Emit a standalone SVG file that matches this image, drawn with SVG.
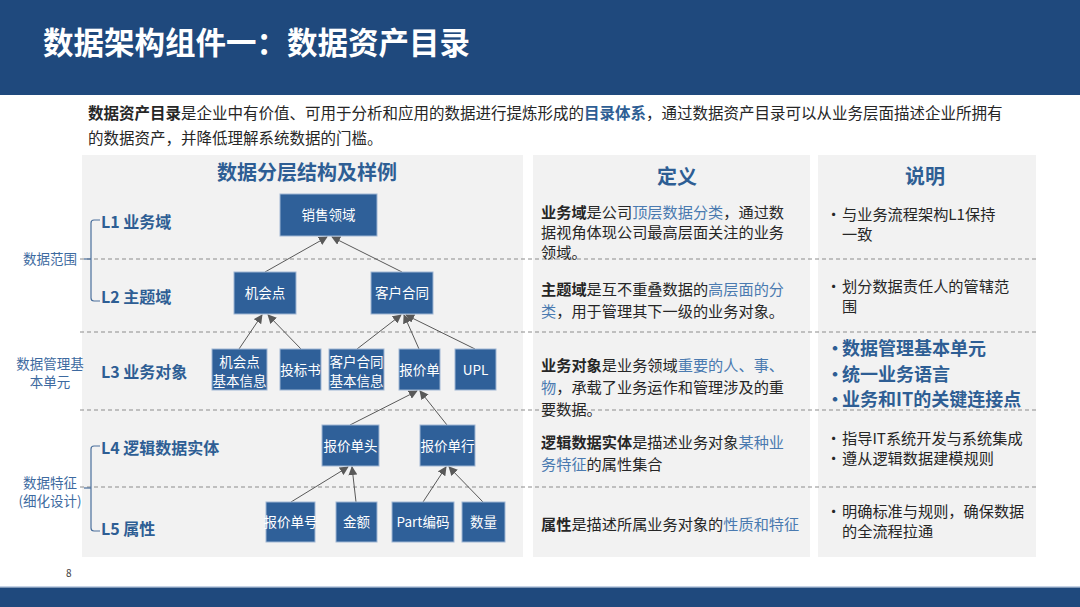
<svg xmlns="http://www.w3.org/2000/svg" width="1080" height="607" viewBox="0 0 1080 607">
<defs>
<style>
text{font-family:"Noto Sans CJK SC","Noto Sans",sans-serif;}
.title{font-size:30.5px;font-weight:700;fill:#ffffff;}
.intro{font-size:15.5px;fill:#262626;}
.b{font-weight:700;}
.hl{fill:#2e5e94;font-weight:700;}
.lb{fill:#4a7ab0;}
.panel{fill:#f2f2f2;}
.dash{stroke:#8c8c8c;stroke-width:1;stroke-dasharray:4,3;fill:none;}
.ph{font-size:20px;font-weight:700;fill:#2e5e94;text-anchor:middle;}
.lvl{font-size:16px;font-weight:700;fill:#2e5e94;}
.side{font-size:13.5px;fill:#3d6aa0;text-anchor:middle;}
.brk{stroke:#4a6f9c;stroke-width:1.2;fill:none;}
.node rect{fill:#2f6099;stroke:#9fb6d3;stroke-width:1;}
.node text{font-size:13.5px;fill:#ffffff;text-anchor:middle;}
.def{font-size:15.2px;fill:#262626;}
.exp{font-size:15.2px;fill:#262626;}
.expb{font-size:18px;font-weight:700;fill:#2e5e94;}
.conn line{stroke:#595959;stroke-width:1;marker-end:url(#ah);}
</style>
<marker id="ah" viewBox="0 0 10 10" refX="9" refY="5" markerWidth="9" markerHeight="9" markerUnits="userSpaceOnUse" orient="auto">
<path d="M0,0 L10,5 L0,10 z" fill="#595959"/>
</marker>
</defs>
<rect x="0" y="0" width="1080" height="607" fill="#ffffff"/>
<!-- header -->
<rect x="0" y="0" width="1080" height="95" fill="#1f497d"/>
<text class="title" x="43" y="54">数据架构组件一：数据资产目录</text>
<!-- intro -->
<text class="intro" x="88" y="119"><tspan class="b">数据资产目录</tspan>是企业中有价值、可用于分析和应用的数据进行提炼形成的<tspan class="hl">目录体系</tspan>，通过数据资产目录可以从业务层面描述企业所拥有</text>
<text class="intro" x="88" y="144">的数据资产，并降低理解系统数据的门槛。</text>
<!-- panels -->
<rect class="panel" x="82" y="155" width="441" height="402"/>
<rect class="panel" x="533" y="155" width="277" height="402"/>
<rect class="panel" x="818" y="155" width="218" height="402"/>
<!-- dashed separators -->
<line class="dash" x1="80" y1="259" x2="1036" y2="259"/>
<line class="dash" x1="80" y1="332" x2="1036" y2="332"/>
<line class="dash" x1="80" y1="410" x2="1036" y2="410"/>
<line class="dash" x1="80" y1="487" x2="1036" y2="487"/>
<!-- panel headings -->
<text class="ph" x="307" y="180">数据分层结构及样例</text>
<text class="ph" x="677" y="184">定义</text>
<text class="ph" x="925" y="184">说明</text>
<!-- left side labels -->
<g id="side-labels">
<path class="brk" d="M100,220 L94,220 Q91,220 91,223 L91,298 Q91,301 94,301 L100,301"/>
<line class="brk" x1="84" y1="259" x2="91" y2="259"/>
<text class="side" x="50" y="264">数据范围</text>
<text class="side" x="50" y="369">数据管理基</text>
<text class="side" x="50" y="387">本单元</text>
<path class="brk" d="M100,446 L94,446 Q91,446 91,449 L91,528 Q91,531 94,531 L100,531"/>
<line class="brk" x1="84" y1="488" x2="91" y2="488"/>
<text class="side" x="50" y="488">数据特征</text>
<text class="side" x="50" y="506">(细化设计)</text>
<text class="lvl" x="101" y="228">L1 业务域</text>
<text class="lvl" x="101" y="303">L2 主题域</text>
<text class="lvl" x="101" y="378">L3 业务对象</text>
<text class="lvl" x="101" y="454">L4 逻辑数据实体</text>
<text class="lvl" x="101" y="535">L5 属性</text>
</g>
<!-- connectors -->
<g id="connectors" class="conn">
<line x1="265" y1="272" x2="327" y2="237"/>
<line x1="402" y1="272" x2="332" y2="237"/>
<line x1="239" y1="349" x2="262" y2="315"/>
<line x1="301" y1="349" x2="268" y2="315"/>
<line x1="357" y1="349" x2="401" y2="315"/>
<line x1="419" y1="349" x2="404" y2="315"/>
<line x1="475" y1="349" x2="406" y2="315"/>
<line x1="350" y1="425" x2="417" y2="391"/>
<line x1="447" y1="425" x2="420" y2="391"/>
<line x1="291" y1="502" x2="348" y2="467"/>
<line x1="356" y1="502" x2="352" y2="467"/>
<line x1="423" y1="502" x2="446" y2="467"/>
<line x1="483" y1="502" x2="449" y2="467"/>
</g>
<!-- nodes -->
<g id="n-xsly" class="node"><rect x="280" y="194" width="97" height="42"/><text x="328.5" y="220">销售领域</text></g>
<g id="n-jhd" class="node"><rect x="234" y="272" width="62" height="42"/><text x="265" y="298">机会点</text></g>
<g id="n-khht" class="node"><rect x="371" y="272" width="62" height="42"/><text x="402" y="298">客户合同</text></g>
<g id="n-jhdxx" class="node"><rect x="212" y="349" width="55" height="41"/><text x="239.5" y="367">机会点</text><text x="239.5" y="386">基本信息</text></g>
<g id="n-tbs" class="node"><rect x="280" y="349" width="41" height="41"/><text x="300.5" y="375">投标书</text></g>
<g id="n-khhtxx" class="node"><rect x="329" y="349" width="55" height="41"/><text x="356.5" y="367">客户合同</text><text x="356.5" y="386">基本信息</text></g>
<g id="n-bjd" class="node"><rect x="399" y="349" width="41" height="41"/><text x="419.5" y="375">报价单</text></g>
<g id="n-upl" class="node"><rect x="455" y="349" width="41" height="41"/><text x="475.5" y="375">UPL</text></g>
<g id="n-bjdt" class="node"><rect x="322" y="425" width="57" height="41"/><text x="350.5" y="451">报价单头</text></g>
<g id="n-bjdh" class="node"><rect x="420" y="425" width="55" height="41"/><text x="447.5" y="451">报价单行</text></g>
<g id="n-bjdhao" class="node"><rect x="266" y="502" width="49" height="40"/><text x="290.5" y="527">报价单号</text></g>
<g id="n-je" class="node"><rect x="336" y="502" width="41" height="40"/><text x="356.5" y="527">金额</text></g>
<g id="n-part" class="node"><rect x="392" y="502" width="62" height="40"/><text x="423" y="527">Part编码</text></g>
<g id="n-sl" class="node"><rect x="462" y="502" width="43" height="40"/><text x="483.5" y="527">数量</text></g>
<!-- definitions -->
<g id="definitions">
<text class="def" x="541" y="218"><tspan class="b">业务域</tspan>是公司<tspan class="lb">顶层数据分类</tspan>，通过数</text>
<text class="def" x="541" y="238">据视角体现公司最高层面关注的业务</text>
<text class="def" x="541" y="258">领域。</text>
<text class="def" x="541" y="295"><tspan class="b">主题域</tspan>是互不重叠数据的<tspan class="lb">高层面的分</tspan></text>
<text class="def" x="541" y="317"><tspan class="lb">类</tspan>，用于管理其下一级的业务对象。</text>
<text class="def" x="541" y="371"><tspan class="b">业务对象</tspan>是业务领域<tspan class="lb">重要的人、事、</tspan></text>
<text class="def" x="541" y="393"><tspan class="lb">物</tspan>，承载了业务运作和管理涉及的重</text>
<text class="def" x="541" y="415">要数据。</text>
<text class="def" x="541" y="448"><tspan class="b">逻辑数据实体</tspan>是描述业务对象<tspan class="lb">某种业</tspan></text>
<text class="def" x="541" y="470"><tspan class="lb">务特征</tspan>的属性集合</text>
<text class="def" x="541" y="530"><tspan class="b">属性</tspan>是描述所属业务对象的<tspan class="lb">性质和特征</tspan></text>
</g>
<!-- explanations -->
<g id="explanations">
<text class="exp" x="826" y="220">•</text>
<text class="exp" x="842" y="220">与业务流程架构L1保持</text>
<text class="exp" x="842" y="240">一致</text>
<text class="exp" x="826" y="292">•</text>
<text class="exp" x="842" y="292">划分数据责任人的管辖范</text>
<text class="exp" x="842" y="312">围</text>
<text class="expb" x="826" y="355">•</text>
<text class="expb" x="842" y="355">数据管理基本单元</text>
<text class="expb" x="826" y="381">•</text>
<text class="expb" x="842" y="381">统一业务语言</text>
<text class="expb" x="826" y="406">•</text>
<text class="expb" x="842" y="406">业务和IT的关键连接点</text>
<text class="exp" x="826" y="444">•</text>
<text class="exp" x="842" y="444">指导IT系统开发与系统集成</text>
<text class="exp" x="826" y="464">•</text>
<text class="exp" x="842" y="464">遵从逻辑数据建模规则</text>
<text class="exp" x="826" y="517">•</text>
<text class="exp" x="842" y="517">明确标准与规则，确保数据</text>
<text class="exp" x="842" y="537">的全流程拉通</text>
</g>
<!-- footer -->
<text x="66" y="577" font-size="10" fill="#404040">8</text>
<rect x="0" y="586" width="1080" height="1.5" fill="#c5d3e6"/>
<rect x="0" y="587.5" width="1080" height="19.5" fill="#1f497d"/>
</svg>
